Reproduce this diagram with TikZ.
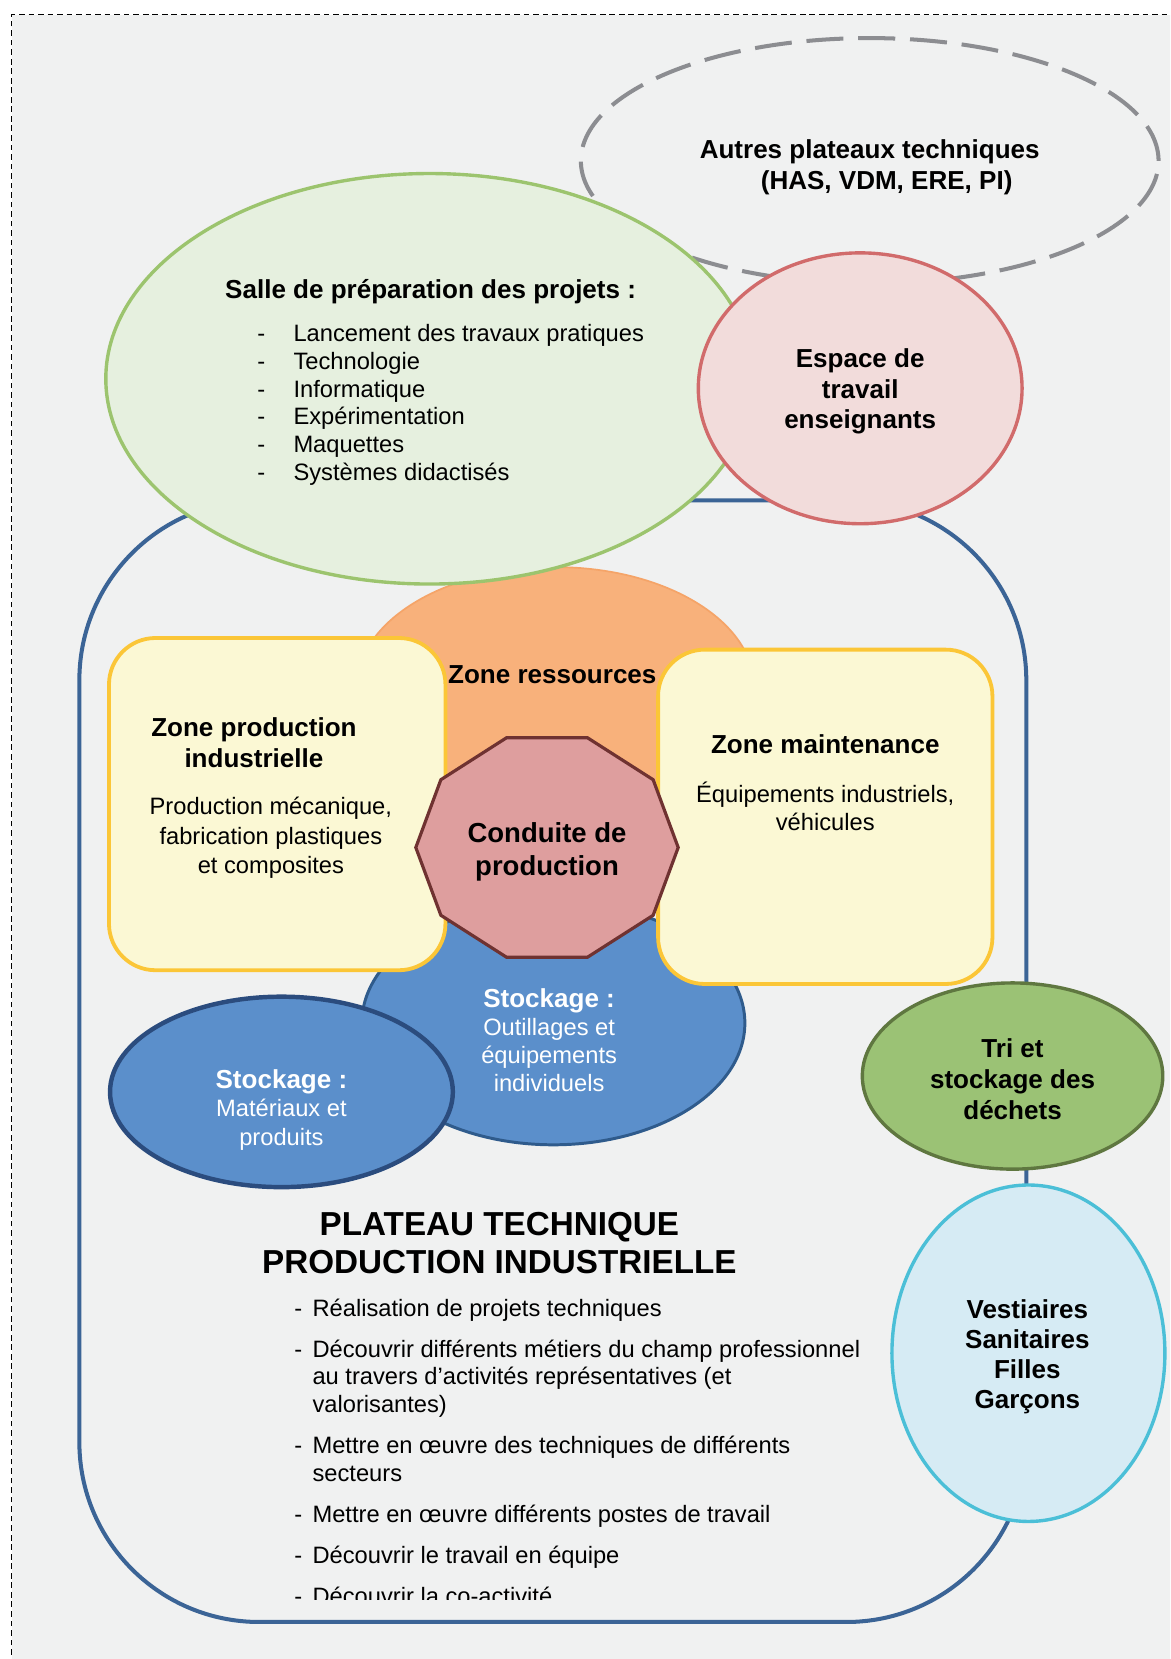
\documentclass[tikz,border=0pt]{standalone}
\usepackage{fontspec}
\setmainfont{Liberation Sans}
\definecolor{bgc}{HTML}{F0F1F1}
\definecolor{greyd}{HTML}{8C8D91}
\definecolor{navyc}{HTML}{3B6496}
\definecolor{greenf}{HTML}{E6F0DF}
\definecolor{greens}{HTML}{9CC46E}
\definecolor{redf}{HTML}{F2DCDB}
\definecolor{reds}{HTML}{D16B6B}
\definecolor{orangef}{HTML}{F8B17B}
\definecolor{oranges}{HTML}{F5A468}
\definecolor{yellowf}{HTML}{FBF8D4}
\definecolor{yellows}{HTML}{FBC637}
\definecolor{octf}{HTML}{DE9E9E}
\definecolor{octs}{HTML}{6F3231}
\definecolor{bluef}{HTML}{5B8FCB}
\definecolor{blues}{HTML}{2F5B8C}
\definecolor{bluess}{HTML}{2B4C7E}
\definecolor{trif}{HTML}{9BC275}
\definecolor{tris}{HTML}{5F7740}
\definecolor{vestf}{HTML}{D6EBF4}
\definecolor{vests}{HTML}{4BBFD7}
\usetikzlibrary{shapes.geometric}
\begin{document}
\begin{tikzpicture}[x=0.5pt,y=-0.5pt,
  shp/.style={inner sep=0pt, outer sep=0pt, ellipse},
  bf/.style={font=\fontsize{12.3}{14.3}\selectfont\bfseries, align=center, inner sep=0pt},
  rg/.style={font=\fontsize{11.2}{13.5}\selectfont, align=center, inner sep=0pt},
  li/.style={font=\fontsize{11.2}{13.1}\selectfont, inner sep=0pt, anchor=west, text height=8pt, text depth=2pt},
  lid/.style={font=\fontsize{11.2}{13.1}\selectfont, inner sep=0pt, text height=8pt, text depth=2pt}]
\useasboundingbox (0,0) rectangle (1106,1568);
\clip (0,0) rectangle (1106,1568);
\fill[white] (0,0) rectangle (1106,1568);
\fill[bgc] (11,14) rectangle (1130,1600);
\draw[black, line width=0.6pt, dash pattern=on 2.7pt off 1.8pt] (11,1600) -- (11,14) -- (1130,14);
% grey dashed ellipse
\node[shp, draw=greyd, line width=1.9pt, dash pattern=on 17.5pt off 7pt, minimum width=273pt, minimum height=116pt] (autres) at (822,152) {};
% big rounded rectangle
\draw[navyc, line width=1.9pt, rounded corners=85pt] (75,473) rectangle (970,1533);
% orange
\node[shp, fill=orangef, draw=oranges, line width=0.8pt, minimum width=188pt, minimum height=114pt] (ress) at (525,650) {};
% big blue
\node[shp, fill=bluef, draw=blues, line width=1.4pt, minimum width=181pt, minimum height=115pt] (stock1) at (523,967) {};
% yellow boxes
\draw[yellows, fill=yellowf, line width=1.8pt, rounded corners=22pt] (103,603) rectangle (421,917);
\draw[yellows, fill=yellowf, line width=1.8pt, rounded corners=22pt] (622,614) rectangle (938,930);
% decagon
\coordinate (cp) at (517,801);
\draw[fill=octf, draw=octs, line width=1.5pt, shift={(cp)}]
  (0:124 and 109) -- (36:124 and 109) -- (72:124 and 109) -- (108:124 and 109) -- (144:124 and 109)
  -- (180:124 and 109) -- (216:124 and 109) -- (252:124 and 109) -- (288:124 and 109) -- (324:124 and 109) -- cycle;
% small blue
\node[shp, fill=bluef, draw=bluess, line width=2.1pt, minimum width=162pt, minimum height=90pt] (stock2) at (266,1032) {};
% green ellipse
\node[shp, fill=greenf, draw=greens, line width=1.6pt, minimum width=306pt, minimum height=194pt] (salle) at (406,358) {};
% red circle
\node[shp, fill=redf, draw=reds, line width=1.6pt, minimum width=153pt, minimum height=128pt] (esp) at (813,367) {};
% tri
\node[shp, fill=trif, draw=tris, line width=1.6pt, minimum width=142pt, minimum height=88pt] (tri) at (957,1017) {};
% vestiaires
\node[shp, fill=vestf, draw=vests, line width=1.6pt, minimum width=129pt, minimum height=159pt] (vest) at (972,1279) {};

% texts
\node[bf] (tAutres) at (822,158) {Autres plateaux techniques\\\hspace*{16pt}(HAS, VDM, ERE, PI)};
\node[bf] (tSalle) at (407,276) {Salle de préparation des projets :};
\foreach \t [count=\i] in {Lancement des travaux pratiques, Technologie, Informatique, Expérimentation, Maquettes, Systèmes didactisés} {
  \node[lid] (sd\i) at (247,{317+26.2*(\i-1)}) {-};
  \node[li] (sl\i) at (277,{317+26.2*(\i-1)}) {\t};
}
\node[bf] (tEsp) at (813,370) {Espace de\\travail\\enseignants};
\node[bf] (tRess) at (522,638) {Zone ressources};
\node[bf] (tZpi) at (240,702) {Zone production\\industrielle};
\node[rg, font=\fontsize{11.2}{14}\selectfont] (tZpi2) at (256,792) {Production mécanique,\\fabrication plastiques\\et composites};
\node[bf] (tZm) at (780,703) {Zone maintenance};
\node[rg] (tZm2) at (780,762) {Équipements industriels,\\véhicules};
\node[bf, font=\fontsize{13}{15.5}\selectfont\bfseries] (tCond) at (517,805) {Conduite de\\production};
\node[rg, text=white, font=\fontsize{11.2}{13.3}\selectfont] (tSt1) at (519,983) {{\fontsize{12.3}{13.3}\selectfont\bfseries Stockage :}\\Outillages et\\équipements\\individuels};
\node[rg, text=white, font=\fontsize{11.2}{13.3}\selectfont] (tSt2) at (266,1049) {{\fontsize{12.3}{13.3}\selectfont\bfseries Stockage :}\\Matériaux et\\produits};
\node[bf, font=\fontsize{12.3}{14.5}\selectfont\bfseries] (tTri) at (957,1020) {Tri et\\stockage des\\déchets};
\node[bf, font=\fontsize{12.3}{14.2}\selectfont\bfseries] (tVest) at (971,1282) {Vestiaires\\Sanitaires\\Filles\\Garçons};
\node[font=\fontsize{15.7}{18}\selectfont\bfseries, align=center, inner sep=0pt] (title) at (472,1175) {PLATEAU TECHNIQUE\\PRODUCTION INDUSTRIELLE};
% bottom list
\node[lid] (bd1) at (282,1238) {-};
\node[li] (bl1) at (295,1238) {Réalisation de projets techniques};
\node[lid] (bd2) at (282,1277) {-};
\node[li] (bl2) at (295,1277) {Découvrir différents métiers du champ professionnel};
\node[li] (bl2b) at (295,1303) {au travers d'activités représentatives (et};
\node[li] (bl2c) at (295,1329) {valorisantes)};
\node[lid] (bd3) at (282,1368) {-};
\node[li] (bl3) at (295,1368) {Mettre en œuvre des techniques de différents};
\node[li] (bl3b) at (295,1394) {secteurs};
\node[lid] (bd4) at (282,1433) {-};
\node[li] (bl4) at (295,1433) {Mettre en œuvre différents postes de travail};
\node[lid] (bd5) at (282,1472) {-};
\node[li] (bl5) at (295,1472) {Découvrir le travail en équipe};
\begin{scope}
\clip (0,0) rectangle (1106,1512);
\node[lid] (bd6) at (282,1510) {-};
\node[li] (bl6) at (295,1510) {Découvrir la co-activité};
\end{scope}
\end{tikzpicture}
\end{document}
